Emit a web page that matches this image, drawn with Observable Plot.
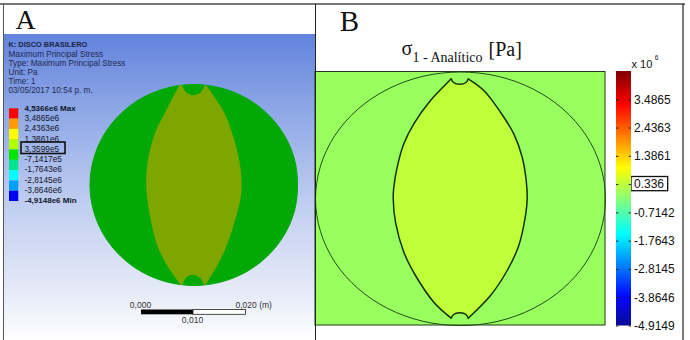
<!DOCTYPE html>
<html>
<head>
<meta charset="utf-8">
<script src="https://cdn.jsdelivr.net/npm/d3@7"></script>
<script src="https://cdn.jsdelivr.net/npm/@observablehq/plot@0.6"></script>
<style>
html,body{margin:0;padding:0;background:#fff}
#chart{position:relative;width:690px;height:340px;overflow:hidden}
#chart svg{position:absolute;background:transparent}
</style>
</head>
<body>
<div id="chart"></div>
<script>
// Traced outlines (figure units); corner points are repeated to keep them sharp
const discAX = [297,293.9,283.5,267,245.5,220.4,193.5,166.6,141.5,120,103.5,93.1,89.5,93.1,103.5,120,141.5,166.6,193.5,220.4,245.5,267,283.5,293.9];
const discAY = [184.5,210.5,234.8,255.5,271.5,281.5,285,281.5,271.5,255.5,234.8,210.5,184.5,158.5,134.2,113.5,97.5,87.5,84,87.5,97.5,113.5,134.2,158.5];
const lensAX = [179,179,175,165,155,148.3,145.7,146.2,150,156.7,166.7,180,180,182.3,182.3,185,192.3,200,203.3,203.3,205,205,215,225,235,240.5,241,239,233.3,225,215,205.7,205.7,204.3,204.3,200,192.3,185,181.7,181.7];
const lensAY = [84.7,84.7,91.7,111.3,131.3,154.7,178,192,218.3,245,265,284.3,284.3,284.3,284.3,277.7,274.3,277.7,284.3,284.3,284.3,284.3,268.3,248.3,218.3,195,180,161.3,138,114.7,98,84.7,84.7,84.7,84.7,92,94.7,91.3,84.7,84.7];
const ellipseBX = [605,600,585.6,562.5,532.5,497.5,460,422.5,387.5,357.5,334.4,320,315,320,334.4,357.5,387.5,422.5,460,497.5,532.5,562.5,585.6,600];
const ellipseBY = [198.3,231.1,261.7,288,308.1,320.8,325.1,320.8,308.1,288,261.7,231.1,198.3,165.5,134.9,108.6,88.5,75.8,71.5,75.8,88.5,108.6,134.9,165.5];
const lensBX = [450.7,450.7,448.3,430,413.3,403.3,396.7,393.3,392.7,395,403.3,415,433.3,450.7,450.7,453,459.3,465.5,467.7,467.7,490,506.7,518.3,525,526.7,525.7,521.7,513.3,500,483.3,467.7,467.7,465.5,459.3,453];
const lensBY = [78.3,78.3,80.7,100,123.3,143.3,166.7,186.7,198,221.7,251.7,275,301.7,317.7,317.7,314,312.3,314,317.7,317.7,295,270,245,215,198,180,156.7,133.3,111.7,90,78.3,78.3,82,83.7,82];

// Panel A legend
const legendColors = ["#ff0000","#ff9a00","#ffff00","#b4ff00","#00e600","#00e68c","#00ffff","#00a0ff","#0000f0"];
const legendLabels = ["4,5366e6 Max","3,4865e6","2,4363e6","1,3861e6","3,3599e5","-7,1417e5","-1,7643e6","-2,8145e6","-3,8646e6","-4,9148e6 Min"];
const headerLines = ["K: DISCO BRASILERO","Maximum Principal Stress","Type: Maximum Principal Stress","Unit: Pa","Time: 1","03/05/2017 10:54 p. m."];

// Panel B colour bar
const barMin = -4.9149, barMax = 4.5366;
const barTicks = [-4.9149,-3.8646,-2.8145,-1.7643,-0.7142,0.336,1.3861,2.4363,3.4865];
const barTickLabels = ["-4.9149","-3.8646","-2.8145","-1.7643","-0.7142","0.336","1.3861","2.4363","3.4865"];
const jetColors = ["#00008f","#0000ff","#00ffff","#ffff00","#ff0000","#800000"];
const jetStops = [0,0.11,0.36,0.62,0.87,1];

const sans = "Liberation Sans, Arial, sans-serif";
const serif = "Liberation Serif, Times New Roman, serif";
const ref = (xs, ys) => xs.map((x, i) => ({x, y: ys[i]}));
const line = (xs, ys, o) => Plot.line(ref(xs, ys), {x: "x", y: "y", ...o});
const rows = (arr, start, step) => arr.map((t, i) => ({t, y: start + i * step}));
const legendRows = rows(legendLabels, 107.8, 10.25);
const headerRows = rows(headerLines, 44.5, 9.1);

const defs = () => {
  const g = d3.create("svg:g");
  const lg = g.append("defs").append("linearGradient").attr("id", "bg").attr("x1", 0).attr("x2", 0).attr("y1", 0).attr("y2", 1);
  [[0,"#6383dc"],[0.25,"#8ea7e6"],[0.55,"#c0cdf0"],[0.85,"#e6ebf8"],[1,"#ffffff"]]
    .forEach(([o, c]) => lg.append("stop").attr("offset", o).attr("stop-color", c));
  return g.node();
};

const main = Plot.plot({
  width: 690, height: 340, margin: 0,
  x: {domain: [0, 690], range: [0, 690], axis: null},
  y: {domain: [0, 340], range: [0, 340], axis: null},
  marks: [
    defs,
    // panel A
    Plot.rect([0], {x1: 3, x2: 315, y1: 34, y2: 340, fill: "url(#bg)"}),
    line(discAX, discAY, {fill: "#02a806", stroke: "#02a806", strokeWidth: 1, curve: "catmull-rom-closed"}),
    line(lensAX, lensAY, {fill: "#7ea600", stroke: "none", curve: "catmull-rom-closed"}),
    Plot.text(["A"], {x: 25, y: 20, text: d => d, fontFamily: serif, fontSize: 28, fill: "#111"}),
    Plot.text(headerRows.slice(0, 1), {x: 8, y: "y", text: "t", textAnchor: "start", fontFamily: sans, fontSize: 7.4, fill: "#1a2448", fontWeight: "bold"}),
    Plot.text(headerRows.slice(1), {x: 8, y: "y", text: "t", textAnchor: "start", fontFamily: sans, fontSize: 8.2, fill: "#1f2a50"}),
    Plot.rect(legendColors.map((c, i) => ({c, i})), {x1: 9, x2: 18.3, y1: d => 108.3 + d.i * 10.3, y2: d => 118.6 + d.i * 10.3, fill: "c"}),
    Plot.text(legendRows.filter((d, i) => i === 0 || i === 9), {x: 24, y: "y", text: "t", textAnchor: "start", fontFamily: sans, fontSize: 8, fill: "#10162a", fontWeight: "bold"}),
    Plot.text(legendRows.filter((d, i) => i !== 0 && i !== 9), {x: 24, y: "y", text: "t", textAnchor: "start", fontFamily: sans, fontSize: 8.3, fill: "#10162a"}),
    Plot.rect([0], {x1: 21, x2: 65, y1: 142, y2: 153.5, stroke: "#111", strokeWidth: 1.6, fill: "none"}),
    Plot.rect([0], {x1: 141, x2: 193, y1: 309.5, y2: 314.3, fill: "#000"}),
    Plot.rect([0], {x1: 193, x2: 245.5, y1: 309.5, y2: 314.3, fill: "#fff", stroke: "#222", strokeWidth: 0.8}),
    Plot.text(["0,000"], {x: 140, y: 304.5, text: d => d, fontFamily: sans, fontSize: 8.5, fill: "#333"}),
    Plot.text(["0,020 (m)"], {x: 235, y: 304.5, text: d => d, textAnchor: "start", fontFamily: sans, fontSize: 8.5, fill: "#333"}),
    Plot.text(["0,010"], {x: 192, y: 320, text: d => d, fontFamily: sans, fontSize: 8.5, fill: "#333"}),
    // panel B
    Plot.rect([0], {x1: 315, x2: 605, y1: 71.5, y2: 325, fill: "#99ff5e", stroke: "#1d3a14", strokeWidth: 1}),
    line(ellipseBX, ellipseBY, {stroke: "#1f4d1a", strokeWidth: 1, curve: "catmull-rom-closed"}),
    line(lensBX, lensBY, {fill: "#bfff3a", stroke: "#12300c", strokeWidth: 1.5, curve: "catmull-rom-closed"}),
    Plot.text(["B"], {x: 349, y: 21, text: d => d, fontFamily: serif, fontSize: 29, fill: "#111"}),
    Plot.text(["σ"], {x: 401, y: 48.5, text: d => d, textAnchor: "start", fontFamily: serif, fontSize: 20, fill: "#111"}),
    Plot.text(["1 - Analítico"], {x: 412, y: 57.5, text: d => d, textAnchor: "start", fontFamily: serif, fontSize: 14, fill: "#111"}),
    Plot.text(["[Pa]"], {x: 488, y: 49, text: d => d, textAnchor: "start", fontFamily: serif, fontSize: 20, fill: "#111"}),
    Plot.text(["x 10"], {x: 631, y: 64, text: d => d, textAnchor: "start", fontFamily: sans, fontSize: 11, fill: "#111"}),
    Plot.text(["6"], {x: 656, y: 57.5, text: d => d, fontFamily: sans, fontSize: 6.5, fill: "#111"}),
    Plot.rect([0], {x1: 631, x2: 667.7, y1: 176.5, y2: 190.7, stroke: "#111", strokeWidth: 1.3, fill: "none"}),
    // frame
    Plot.ruleY([3.5], {x1: 0, x2: 685, stroke: "#777", strokeWidth: 2}),
    Plot.ruleX([3], {y1: 4, y2: 340, stroke: "#555", strokeWidth: 1}),
    Plot.ruleX([315], {y1: 4, y2: 340, stroke: "#222", strokeWidth: 1}),
    Plot.ruleX([682.5], {y1: 4, y2: 340, stroke: "#222", strokeWidth: 1.2})
  ]
});
main.style.left = "0px"; main.style.top = "0px";

const sliceCount = 254;
const sliceH = (barMax - barMin) / sliceCount;
const slices = d3.range(sliceCount).map(i => barMin + i * sliceH);
const bar = Plot.plot({
  width: 90, height: 280,
  marginLeft: 16, marginRight: 59, marginTop: 11, marginBottom: 14.5,
  x: {domain: [0, 1], axis: null},
  y: {domain: [barMin, barMax], axis: null},
  color: {type: "linear", domain: jetStops.map(t => barMin + t * (barMax - barMin)), range: jetColors, interpolate: "rgb"},
  marks: [
    Plot.rect(slices, {x1: 0, x2: 1, y1: d => d, y2: d => Math.min(barMax, d + sliceH * 1.4), fill: d => d + sliceH / 2}),
    Plot.axisY({anchor: "right", ticks: barTicks, tickSize: 0, tickPadding: 2.5, fontSize: 12, fontFamily: sans, fill: "#111",
      tickFormat: d => barTickLabels[barTicks.indexOf(d)], label: null}),
    Plot.ruleY(barTicks, {y: d => d, x1: 0, x2: 0.16, stroke: "#222", strokeWidth: 1}),
    Plot.ruleY(barTicks, {y: d => d, x1: 0.84, x2: 1, stroke: "#222", strokeWidth: 1})
  ]
});
bar.style.left = "600px"; bar.style.top = "60px"; bar.style.overflow = "visible";

document.getElementById("chart").append(main, bar);
</script>
</body>
</html>
